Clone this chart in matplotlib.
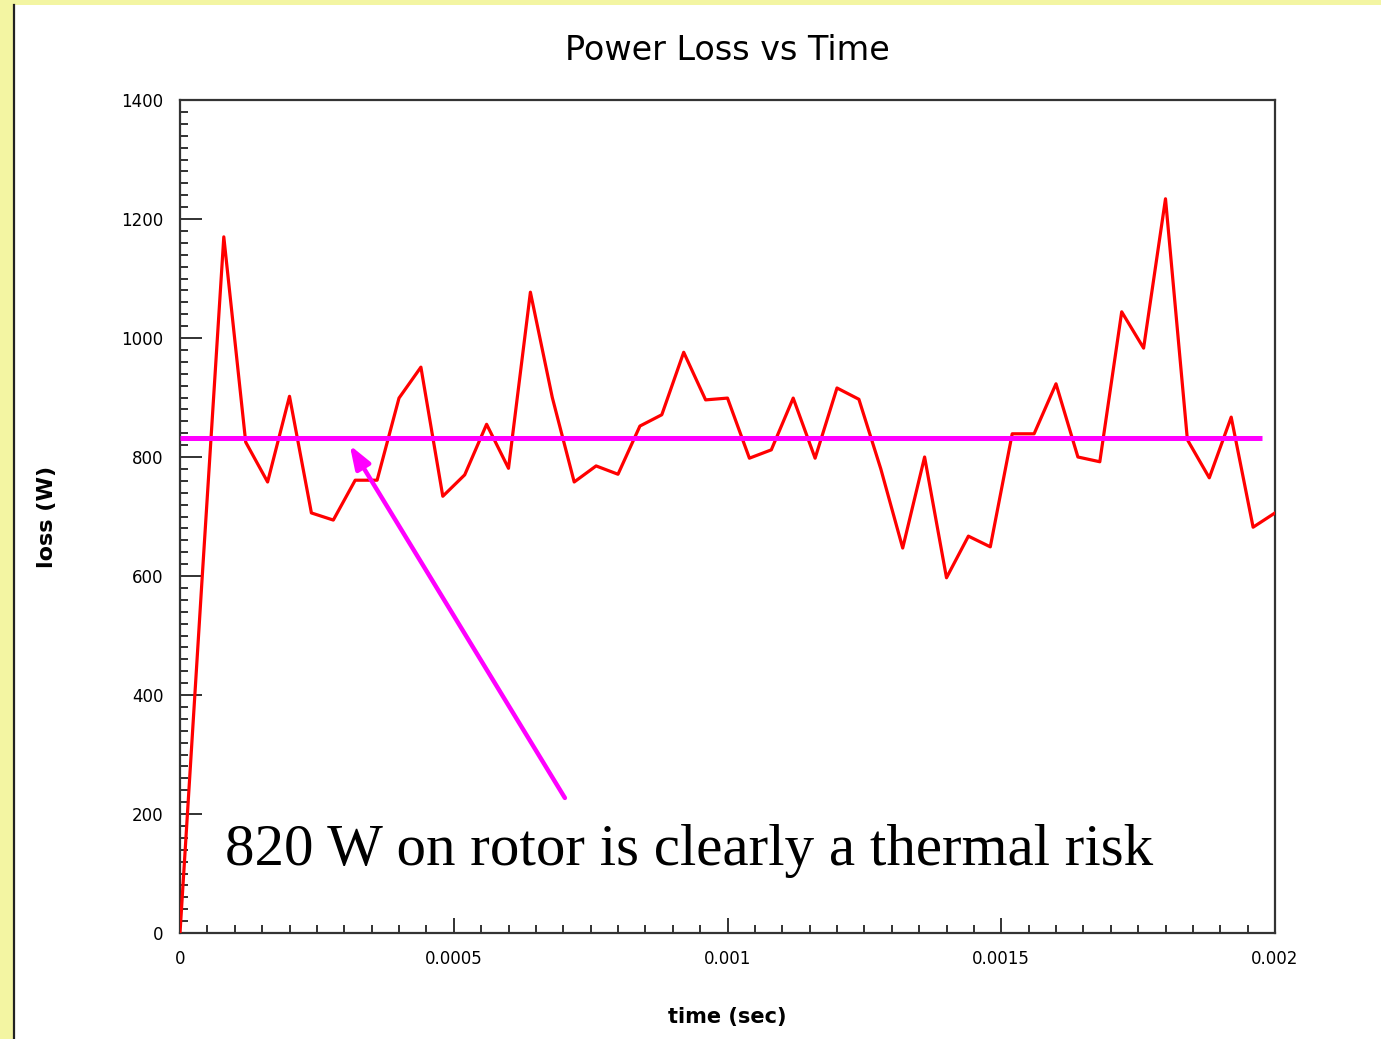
import numpy as np
import matplotlib
matplotlib.use("Agg")
import matplotlib.pyplot as plt
from matplotlib.ticker import MultipleLocator, FixedLocator, FixedFormatter
from matplotlib.patches import Rectangle

# power loss samples, one every 40 microseconds
dt = 0.00004
loss = [0, 590, 1170, 825, 758, 902, 706, 694, 761, 761,
        899, 951, 734, 770, 855, 781, 1077, 900, 758, 785,
        771, 852, 871, 976, 896, 899, 798, 812, 899, 798,
        916, 897, 780, 647, 800, 597, 667, 649, 839, 839,
        923, 800, 792, 1044, 983, 1234, 829, 765, 867, 682,
        706]
time = np.arange(len(loss)) * dt

avg_level = 832
avg_end = 0.001976
arrow_tip = (0.00031, 820)
arrow_tail = (0.000703, 227)
note = "820 W on rotor is clearly a thermal risk"

xticks = [0, 0.0005, 0.001, 0.0015, 0.002]
xticklabels = ["0", "0.0005", "0.001", "0.0015", "0.002"]
yticks = [0, 200, 400, 600, 800, 1000, 1200, 1400]

fig = plt.figure(figsize=(13.81, 10.39), dpi=100)
fig.patch.set_facecolor("#F3F5A2")
# white slide panel with dark left edge
fig.add_artist(Rectangle((14 / 1381, 0), 1 - 14 / 1381, 1 - 5 / 1039,
                         transform=fig.transFigure, facecolor="white",
                         edgecolor="none", zorder=0))
fig.add_artist(plt.Line2D([14 / 1381, 14 / 1381], [0, 1 - 5 / 1039],
                          transform=fig.transFigure, color="#222222", lw=1.6))

ax = fig.add_axes([180 / 1381, 1 - 933 / 1039, 1095 / 1381, 833 / 1039])
ax.set_facecolor("white")

ax.plot(time, loss, color="#FF0000", lw=2.3, zorder=3)
ax.plot([0, avg_end], [avg_level, avg_level], color="#FF00FF", lw=3.6,
        solid_capstyle="butt", zorder=4)
ax.annotate("", xy=arrow_tip, xytext=arrow_tail,
            arrowprops=dict(arrowstyle="-|>,head_length=1.4,head_width=0.5",
                            color="#FF00FF", lw=3.2, shrinkA=0, shrinkB=0),
            zorder=5)
ax.text(0.000083, 114, note, family="Liberation Serif", fontsize=42.5,
        color="black", va="baseline", zorder=6)

ax.set_xlim(0, 0.002)
ax.set_ylim(0, 1400)
ax.xaxis.set_major_locator(FixedLocator(xticks))
ax.xaxis.set_major_formatter(FixedFormatter(xticklabels))
ax.xaxis.set_minor_locator(MultipleLocator(0.00005))
ax.set_yticks(yticks)
ax.yaxis.set_minor_locator(MultipleLocator(20))

for s in ax.spines.values():
    s.set_color("#333333")
    s.set_linewidth(1.6)

ax.tick_params(axis="both", which="both", direction="in", color="#222222",
               top=False, right=False, labelsize=12)
ax.tick_params(axis="x", which="major", length=11, width=1.3, pad=12)
ax.tick_params(axis="x", which="minor", length=6, width=1.3)
ax.tick_params(axis="y", which="major", length=16, width=1.3, pad=12)
ax.tick_params(axis="y", which="minor", length=6, width=1.3)

ax.set_title("Power Loss vs Time", fontsize=24, pad=29)
ax.set_xlabel("time (sec)", fontsize=15, fontweight="bold", labelpad=28)
ax.set_ylabel("loss (W)", fontsize=16, fontweight="bold", labelpad=46)

fig.savefig("out.png", dpi=100)
